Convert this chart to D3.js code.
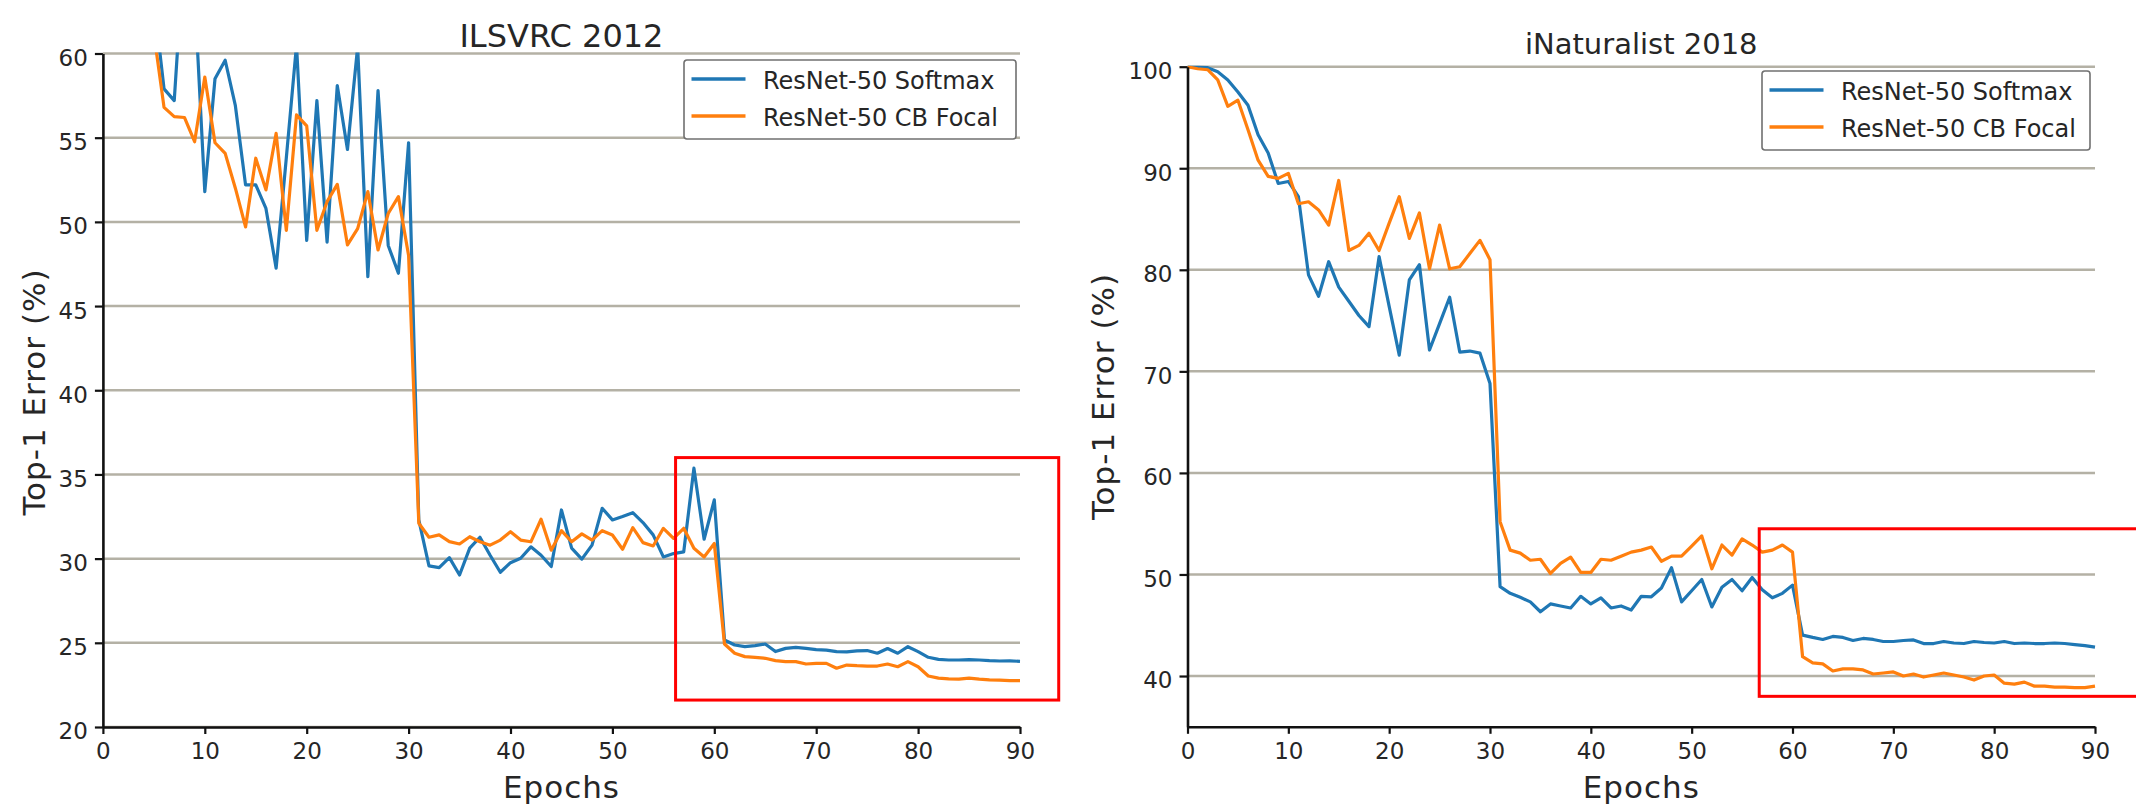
<!DOCTYPE html>
<html>
<head>
<meta charset="utf-8">
<script src="https://cdn.jsdelivr.net/npm/d3@7"></script>
<style>
  body { margin: 0; background: #fff; }
  svg { display: block; }
  text { font-family: "DejaVu Sans", sans-serif; fill: #262626; }
</style>
</head>
<body>
<div id="chart"></div>
<script>
// epochs 0..90, one reading per epoch
const epochs = d3.range(0, 91);
const xTicks = [0, 10, 20, 30, 40, 50, 60, 70, 80, 90];

// ILSVRC 2012 (values above 60 run off the top of the plot)
const ilsvrcTicks = [20, 25, 30, 35, 40, 45, 50, 55, 60];
const ilsvrcSoftmax = [
  95, 85, 76, 70, 66, 63.2, 57.9, 57.2, 66.5, 63.6,
  51.8, 58.5, 59.6, 56.9, 52.2, 52.2, 50.8, 47.25, 53.8, 60.5,
  48.9, 57.2, 48.8, 58.1, 54.3, 60.4, 46.75, 57.8, 48.6, 46.95,
  54.7, 32.3, 29.57, 29.47, 30.06, 29.03, 30.62, 31.27, 30.2, 29.19,
  29.76, 30.02, 30.7, 30.2, 29.53, 32.89, 30.62, 29.97, 30.8, 32.99,
  32.3, 32.5, 32.73, 32.14, 31.41, 30.1, 30.3, 30.4, 35.37, 31.15,
  33.49, 25.17, 24.87, 24.77, 24.83, 24.93, 24.48, 24.67, 24.73, 24.67,
  24.6, 24.57, 24.48, 24.46, 24.52, 24.54, 24.38, 24.66, 24.38, 24.77,
  24.48, 24.14, 24.02, 23.98, 23.98, 24.0, 23.98, 23.94, 23.92, 23.93,
  23.9
];
const ilsvrcCBFocal = [
  92, 80, 72, 67, 64, 61.2, 56.8, 56.25, 56.2, 54.76,
  58.6, 54.7, 54.07, 52.0, 49.7, 53.78, 51.9, 55.26, 49.5, 56.35,
  55.7, 49.5, 51.2, 52.23, 48.63, 49.6, 51.8, 48.33, 50.5, 51.5,
  48.0, 32.1, 31.27, 31.41, 31.01, 30.87, 31.3, 31.0, 30.8, 31.1,
  31.6, 31.1, 31.0, 32.34, 30.5, 31.66, 31.0, 31.47, 31.1, 31.66,
  31.4, 30.56, 31.84, 30.95, 30.75, 31.8, 31.2, 31.8, 30.62, 30.1,
  30.9, 24.93, 24.38, 24.18, 24.14, 24.08, 23.94, 23.88, 23.88, 23.74,
  23.78, 23.78, 23.49, 23.68, 23.64, 23.62, 23.62, 23.74, 23.58, 23.88,
  23.58, 23.03, 22.9, 22.86, 22.84, 22.9, 22.84, 22.8, 22.78, 22.76,
  22.76
];

// iNaturalist 2018
const inatTicks = [40, 50, 60, 70, 80, 90, 100];
const inatSoftmax = [
  100, 100, 99.9, 99.5, 98.7, 97.5, 96.2, 93.3, 91.5, 88.5,
  88.7, 87.2, 79.5, 77.4, 80.8, 78.3, 76.9, 75.5, 74.4, 81.3,
  76.4, 71.6, 79.0, 80.5, 72.1, 74.7, 77.3, 71.9, 72.0, 71.8,
  68.8, 48.8, 48.14, 47.75, 47.3, 46.33, 47.1, 46.9, 46.7, 47.85,
  47.1, 47.7, 46.7, 46.9, 46.5, 47.85, 47.8, 48.66, 50.67, 47.3,
  48.4, 49.5, 46.8, 48.75, 49.5, 48.4, 49.7, 48.5, 47.7, 48.14,
  48.95, 44.03, 43.8, 43.6, 43.9, 43.8, 43.5, 43.7, 43.6, 43.4,
  43.4, 43.5, 43.55, 43.2, 43.2, 43.4, 43.25, 43.2, 43.4, 43.3,
  43.25, 43.4, 43.2, 43.25, 43.2, 43.2, 43.25, 43.2, 43.1, 43.0,
  42.85
];
const inatCBFocal = [
  100, 99.8, 99.7, 98.7, 96.1, 96.7, 93.8, 90.8, 89.2, 89.0,
  89.5, 86.5, 86.7, 85.9, 84.4, 88.8, 81.9, 82.4, 83.6, 81.9,
  84.6, 87.2, 83.1, 85.6, 80.1, 84.4, 80.1, 80.3, 81.6, 82.9,
  81.0, 55.2, 52.4, 52.1, 51.4, 51.5, 50.1, 51.1, 51.7, 50.2,
  50.2, 51.5, 51.4, 51.8, 52.2, 52.4, 52.7, 51.3, 51.8, 51.8,
  52.8, 53.8, 50.56, 52.9, 51.9, 53.5, 52.9, 52.2, 52.4, 52.9,
  52.2, 41.9, 41.3, 41.2, 40.5, 40.7, 40.7, 40.6, 40.2, 40.3,
  40.4, 40.0, 40.2, 39.9, 40.1, 40.3, 40.1, 39.9, 39.6, 40.0,
  40.1, 39.3, 39.2, 39.4, 39.0, 39.0, 38.9, 38.9, 38.85, 38.85,
  39.0
];

const seriesNames = ['ResNet-50 Softmax', 'ResNet-50 CB Focal'];
const seriesColors = ['#1f77b4', '#ff7f0e'];

const svg = d3.select('#chart').append('svg')
  .attr('width', 2136)
  .attr('height', 807);

// one panel = one chart with its own scales and axes
function drawPanel(p) {
  const x = d3.scaleLinear().domain([0, 90]).range([p.left, p.right]);
  const y = d3.scaleLinear().domain(p.yDomain).range([p.bottom, p.top]);
  const g = svg.append('g');

  // horizontal grid
  g.append('g').selectAll('line')
    .data(p.yTicks)
    .join('line')
    .attr('x1', p.left).attr('x2', p.right)
    .attr('y1', d => y(d)).attr('y2', d => y(d))
    .attr('stroke', '#b4b1a5')
    .attr('stroke-width', 2.5);

  // clip so the early epochs leave through the top edge
  svg.append('clipPath').attr('id', 'clip-' + p.id)
    .append('rect')
    .attr('x', p.left).attr('y', p.top - 1)
    .attr('width', p.right - p.left + 4).attr('height', p.bottom - p.top + 1);

  const line = d3.line()
    .x((d, i) => x(epochs[i]))
    .y(d => y(d));

  g.append('g').attr('clip-path', `url(#clip-${p.id})`)
    .selectAll('path')
    .data(p.series)
    .join('path')
    .attr('d', d => line(d))
    .attr('fill', 'none')
    .attr('stroke', (d, i) => seriesColors[i])
    .attr('stroke-width', 3.2)
    .attr('stroke-linejoin', 'round');

  // axes
  const yAxis = g.append('g')
    .attr('transform', `translate(${p.left},0)`)
    .call(d3.axisLeft(y).tickValues(p.yTicks).tickSize(8).tickSizeOuter(0).tickPadding(7));
  yAxis.selectAll('text').attr('dy', '0.52em');

  const xAxis = g.append('g')
    .attr('transform', `translate(0,${p.bottom})`)
    .call(d3.axisBottom(x).tickValues(xTicks).tickSize(7).tickSizeOuter(0).tickPadding(9));

  [yAxis, xAxis].forEach((ax) => {
    ax.select('.domain').attr('stroke', '#111').attr('stroke-width', 2.6);
    ax.selectAll('.tick line').attr('stroke', '#111').attr('stroke-width', 2.2);
    ax.selectAll('text')
      .attr('font-family', '"DejaVu Sans", sans-serif')
      .attr('font-size', 23)
      .attr('fill', '#262626');
  });

  // annotation box, given in data units
  g.append('rect')
    .attr('x', x(p.box.e0)).attr('y', y(p.box.v1))
    .attr('width', x(p.box.e1) - x(p.box.e0))
    .attr('height', y(p.box.v0) - y(p.box.v1))
    .attr('fill', 'none')
    .attr('stroke', '#ff0000')
    .attr('stroke-width', 3);

  // title and axis labels
  g.append('text')
    .attr('x', (p.left + p.right) / 2).attr('y', p.titleY)
    .attr('text-anchor', 'middle')
    .attr('font-size', p.titleSize)
    .text(p.title);

  g.append('text')
    .attr('x', (p.left + p.right) / 2).attr('y', 798)
    .attr('text-anchor', 'middle')
    .attr('font-size', 31)
    .attr('letter-spacing', 1)
    .text('Epochs');

  g.append('text')
    .attr('transform', `translate(${p.yLabelX},${p.yLabelY}) rotate(-90)`)
    .attr('text-anchor', 'middle')
    .attr('font-size', 31)
    .attr('letter-spacing', 1)
    .text('Top-1 Error (%)');

  // legend
  const lg = g.append('g').attr('transform', `translate(${p.legendX},${p.legendY})`);
  lg.append('rect')
    .attr('width', p.legendW).attr('height', 79)
    .attr('rx', 3)
    .attr('fill', '#fff')
    .attr('stroke', '#707070')
    .attr('stroke-width', 1.6);
  seriesNames.forEach((name, i) => {
    const ly = 19 + i * 37;
    lg.append('line')
      .attr('x1', 7.5).attr('x2', 61.5)
      .attr('y1', ly).attr('y2', ly)
      .attr('stroke', seriesColors[i])
      .attr('stroke-width', 3.5);
    lg.append('text')
      .attr('x', 79).attr('y', ly + 9.5)
      .attr('font-size', 24)
      .text(name);
  });
}

drawPanel({
  id: 'ilsvrc',
  title: 'ILSVRC 2012',
  titleSize: 32,
  titleY: 47,
  left: 102.9, right: 1020, top: 53.5, bottom: 727,
  yDomain: [20, 60],
  yTicks: ilsvrcTicks,
  series: [ilsvrcSoftmax, ilsvrcCBFocal],
  box: { e0: 56.2, e1: 93.8, v0: 21.6, v1: 36.0 },
  yLabelX: 45, yLabelY: 392,
  legendX: 684, legendY: 60, legendW: 332
});

drawPanel({
  id: 'inat',
  title: 'iNaturalist 2018',
  titleSize: 29,
  titleY: 53.5,
  left: 1187.5, right: 2095, top: 66.7, bottom: 726.8,
  yDomain: [35, 100],
  yTicks: inatTicks,
  series: [inatSoftmax, inatCBFocal],
  box: { e0: 56.7, e1: 96, v0: 38.0, v1: 54.5 },
  yLabelX: 1113.5, yLabelY: 396.5,
  legendX: 1762, legendY: 71, legendW: 328
});
</script>
</body>
</html>
